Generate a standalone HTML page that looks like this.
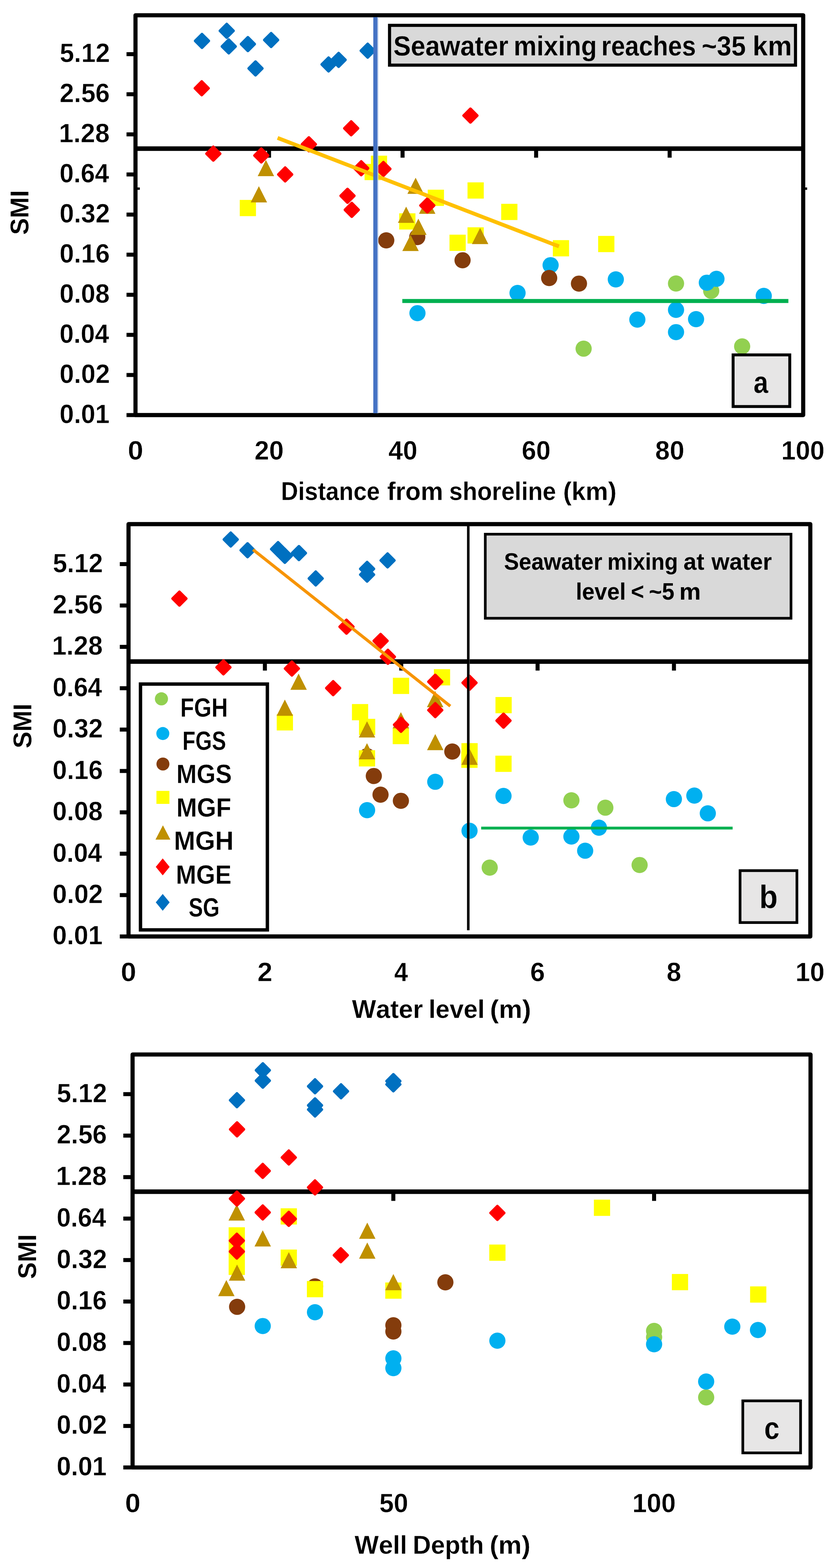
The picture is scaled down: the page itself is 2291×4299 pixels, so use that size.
<!DOCTYPE html>
<html lang="en">
<head>
<meta charset="utf-8">
<title>SMI versus distance from shoreline, water level and well depth</title>
<style>
html,body{margin:0;padding:0;background:#fff;}
body{width:2291px;height:4299px;overflow:hidden;}
svg{display:block;font-family:"Liberation Sans", sans-serif;font-weight:bold;font-kerning:none;fill:#000;}
text{white-space:pre;}
</style>
</head>
<body>
<svg role="img" aria-label="SMI versus distance from shoreline, water level and well depth" width="2291" height="4299" viewBox="0 0 2291 4299">
<rect x="0" y="0" width="2291" height="4299" fill="#ffffff"/>
<line x1="371.3" y1="407.5" x2="2201.1" y2="407.5" stroke="#000000" stroke-width="12.4" stroke-linecap="butt"/>
<line x1="737.3" y1="407.3" x2="737.3" y2="432.3" stroke="#000000" stroke-width="11" stroke-linecap="butt"/>
<line x1="1103.2" y1="407.3" x2="1103.2" y2="432.3" stroke="#000000" stroke-width="11" stroke-linecap="butt"/>
<line x1="1469.2" y1="407.3" x2="1469.2" y2="432.3" stroke="#000000" stroke-width="11" stroke-linecap="butt"/>
<line x1="1835.1" y1="407.3" x2="1835.1" y2="432.3" stroke="#000000" stroke-width="11" stroke-linecap="butt"/>
<line x1="371.3" y1="517.2" x2="383.1" y2="517.2" stroke="#000000" stroke-width="6.5" stroke-linecap="butt"/>
<line x1="2201.1" y1="517.2" x2="2212.0" y2="517.2" stroke="#000000" stroke-width="6.5" stroke-linecap="butt"/>
<rect x="371.3" y="41.8" width="1829.8" height="1096.2" fill="none" stroke="#000000" stroke-width="11.3" stroke-linejoin="round"/>
<line x1="346.7" y1="1138.0" x2="371.3" y2="1138.0" stroke="#000000" stroke-width="11" stroke-linecap="butt"/>
<line x1="346.7" y1="1028.1" x2="371.3" y2="1028.1" stroke="#000000" stroke-width="11" stroke-linecap="butt"/>
<line x1="346.7" y1="918.1" x2="371.3" y2="918.1" stroke="#000000" stroke-width="11" stroke-linecap="butt"/>
<line x1="346.7" y1="808.2" x2="371.3" y2="808.2" stroke="#000000" stroke-width="11" stroke-linecap="butt"/>
<line x1="346.7" y1="698.2" x2="371.3" y2="698.2" stroke="#000000" stroke-width="11" stroke-linecap="butt"/>
<line x1="346.7" y1="588.3" x2="371.3" y2="588.3" stroke="#000000" stroke-width="11" stroke-linecap="butt"/>
<line x1="346.7" y1="478.3" x2="371.3" y2="478.3" stroke="#000000" stroke-width="11" stroke-linecap="butt"/>
<line x1="346.7" y1="368.4" x2="371.3" y2="368.4" stroke="#000000" stroke-width="11" stroke-linecap="butt"/>
<line x1="346.7" y1="258.4" x2="371.3" y2="258.4" stroke="#000000" stroke-width="11" stroke-linecap="butt"/>
<line x1="346.7" y1="148.5" x2="371.3" y2="148.5" stroke="#000000" stroke-width="11" stroke-linecap="butt"/>
<circle cx="1852.6" cy="777.3" r="22.2" fill="#92D050"/>
<circle cx="1949.0" cy="797.4" r="22.2" fill="#92D050"/>
<circle cx="1599.4" cy="955.9" r="22.2" fill="#92D050"/>
<circle cx="2033.8" cy="949.8" r="22.2" fill="#92D050"/>
<circle cx="1508.9" cy="727.1" r="22.2" fill="#00B0F0"/>
<circle cx="1418.3" cy="803.3" r="22.2" fill="#00B0F0"/>
<circle cx="1144.0" cy="858.6" r="22.2" fill="#00B0F0"/>
<circle cx="1687.6" cy="766.0" r="22.2" fill="#00B0F0"/>
<circle cx="1746.6" cy="876.2" r="22.2" fill="#00B0F0"/>
<circle cx="1852.6" cy="849.6" r="22.2" fill="#00B0F0"/>
<circle cx="1852.6" cy="910.6" r="22.2" fill="#00B0F0"/>
<circle cx="1907.5" cy="875.0" r="22.2" fill="#00B0F0"/>
<circle cx="1937.0" cy="775.1" r="22.2" fill="#00B0F0"/>
<circle cx="1963.4" cy="764.4" r="22.2" fill="#00B0F0"/>
<circle cx="2093.0" cy="811.3" r="22.2" fill="#00B0F0"/>
<circle cx="1058.5" cy="659.0" r="22.2" fill="#843C0C"/>
<circle cx="1143.5" cy="650.0" r="22.2" fill="#843C0C"/>
<circle cx="1267.6" cy="713.6" r="22.2" fill="#843C0C"/>
<circle cx="1505.0" cy="762.2" r="22.2" fill="#843C0C"/>
<circle cx="1586.6" cy="777.6" r="22.2" fill="#843C0C"/>
<rect x="657.0" y="548.1" width="44.5" height="44.5" fill="#FFFF00"/>
<rect x="999.1" y="449.4" width="44.5" height="44.5" fill="#FFFF00"/>
<rect x="1016.3" y="426.8" width="44.5" height="44.5" fill="#FFFF00"/>
<rect x="1094.0" y="584.8" width="44.5" height="44.5" fill="#FFFF00"/>
<rect x="1172.2" y="520.1" width="44.5" height="44.5" fill="#FFFF00"/>
<rect x="1281.2" y="500.0" width="44.5" height="44.5" fill="#FFFF00"/>
<rect x="1373.5" y="558.8" width="44.5" height="44.5" fill="#FFFF00"/>
<rect x="1231.8" y="643.4" width="44.5" height="44.5" fill="#FFFF00"/>
<rect x="1281.2" y="623.2" width="44.5" height="44.5" fill="#FFFF00"/>
<rect x="1515.0" y="658.4" width="44.5" height="44.5" fill="#FFFF00"/>
<rect x="1639.2" y="646.8" width="44.5" height="44.5" fill="#FFFF00"/>
<path d="M728.7 438.5L751.2 482.9L706.2 482.9Z" fill="#BF9000"/>
<path d="M709.4 510.5L731.9 554.9L686.9 554.9Z" fill="#BF9000"/>
<path d="M1113.0 566.6L1135.5 611.0L1090.5 611.0Z" fill="#BF9000"/>
<path d="M1139.0 487.2L1161.5 531.6L1116.5 531.6Z" fill="#BF9000"/>
<path d="M1125.0 643.8L1147.5 688.2L1102.5 688.2Z" fill="#BF9000"/>
<path d="M1146.5 599.6L1169.0 644.0L1124.0 644.0Z" fill="#BF9000"/>
<path d="M1315.7 624.8L1338.2 669.2L1293.2 669.2Z" fill="#BF9000"/>
<path d="M1170.7 541.8L1193.2 586.2L1148.2 586.2Z" fill="#BF9000"/>
<path d="M552.8 223.8L571.0 242.0L552.8 260.2L534.6 242.0Z" fill="#FF0000" stroke="#FF0000" stroke-width="8.0" stroke-linejoin="round"/>
<path d="M962.4 333.6L980.6 351.8L962.4 370.0L944.2 351.8Z" fill="#FF0000" stroke="#FF0000" stroke-width="8.0" stroke-linejoin="round"/>
<path d="M846.4 377.4L864.6 395.6L846.4 413.8L828.2 395.6Z" fill="#FF0000" stroke="#FF0000" stroke-width="8.0" stroke-linejoin="round"/>
<path d="M584.6 403.1L602.8 421.3L584.6 439.5L566.4 421.3Z" fill="#FF0000" stroke="#FF0000" stroke-width="8.0" stroke-linejoin="round"/>
<path d="M716.1 408.1L734.3 426.3L716.1 444.5L697.9 426.3Z" fill="#FF0000" stroke="#FF0000" stroke-width="8.0" stroke-linejoin="round"/>
<path d="M781.5 460.1L799.7 478.3L781.5 496.5L763.3 478.3Z" fill="#FF0000" stroke="#FF0000" stroke-width="8.0" stroke-linejoin="round"/>
<path d="M989.9 443.1L1008.1 461.3L989.9 479.5L971.7 461.3Z" fill="#FF0000" stroke="#FF0000" stroke-width="8.0" stroke-linejoin="round"/>
<path d="M1050.7 445.0L1068.9 463.2L1050.7 481.4L1032.5 463.2Z" fill="#FF0000" stroke="#FF0000" stroke-width="8.0" stroke-linejoin="round"/>
<path d="M952.3 518.7L970.5 536.9L952.3 555.1L934.1 536.9Z" fill="#FF0000" stroke="#FF0000" stroke-width="8.0" stroke-linejoin="round"/>
<path d="M964.0 557.2L982.2 575.4L964.0 593.6L945.8 575.4Z" fill="#FF0000" stroke="#FF0000" stroke-width="8.0" stroke-linejoin="round"/>
<path d="M1289.2 298.7L1307.4 316.9L1289.2 335.1L1271.0 316.9Z" fill="#FF0000" stroke="#FF0000" stroke-width="8.0" stroke-linejoin="round"/>
<path d="M1171.0 545.1L1189.2 563.3L1171.0 581.5L1152.8 563.3Z" fill="#FF0000" stroke="#FF0000" stroke-width="8.0" stroke-linejoin="round"/>
<path d="M553.5 94.0L571.7 112.2L553.5 130.4L535.3 112.2Z" fill="#0070C0" stroke="#0070C0" stroke-width="8.0" stroke-linejoin="round"/>
<path d="M621.3 66.3L639.5 84.5L621.3 102.7L603.1 84.5Z" fill="#0070C0" stroke="#0070C0" stroke-width="8.0" stroke-linejoin="round"/>
<path d="M626.9 109.1L645.1 127.3L626.9 145.5L608.7 127.3Z" fill="#0070C0" stroke="#0070C0" stroke-width="8.0" stroke-linejoin="round"/>
<path d="M679.3 102.7L697.5 120.9L679.3 139.1L661.1 120.9Z" fill="#0070C0" stroke="#0070C0" stroke-width="8.0" stroke-linejoin="round"/>
<path d="M743.0 91.5L761.2 109.7L743.0 127.9L724.8 109.7Z" fill="#0070C0" stroke="#0070C0" stroke-width="8.0" stroke-linejoin="round"/>
<path d="M700.2 169.4L718.4 187.6L700.2 205.8L682.0 187.6Z" fill="#0070C0" stroke="#0070C0" stroke-width="8.0" stroke-linejoin="round"/>
<path d="M900.4 158.5L918.6 176.7L900.4 194.9L882.2 176.7Z" fill="#0070C0" stroke="#0070C0" stroke-width="8.0" stroke-linejoin="round"/>
<path d="M928.0 146.0L946.2 164.2L928.0 182.4L909.8 164.2Z" fill="#0070C0" stroke="#0070C0" stroke-width="8.0" stroke-linejoin="round"/>
<path d="M1007.6 120.8L1025.8 139.0L1007.6 157.2L989.4 139.0Z" fill="#0070C0" stroke="#0070C0" stroke-width="8.0" stroke-linejoin="round"/>
<line x1="760.7" y1="378.2" x2="1531.8" y2="675.5" stroke="#FFC000" stroke-width="10.5" stroke-linecap="butt"/>
<line x1="1102.5" y1="825.3" x2="2160.5" y2="825.3" stroke="#00B050" stroke-width="11" stroke-linecap="butt"/>
<rect x="1023.0" y="47.0" width="11.4" height="1086.0" fill="#4472C4" stroke="none" stroke-width="0"/>
<rect x="1034.4" y="47.0" width="2.4" height="1086.0" fill="#B4C7E7" stroke="none" stroke-width="0"/>
<rect x="1067.5" y="69.5" width="1112.5" height="109.1" fill="#D9D9D9" stroke="#000000" stroke-width="8.5"/>
<text y="151.80" font-size="75.57" stroke="#D9D9D9" stroke-width="0.40" stroke-linejoin="round"><tspan x="1077.93" textLength="335.09" lengthAdjust="spacingAndGlyphs">Seawater </tspan><tspan x="1407.43" textLength="247.99" lengthAdjust="spacingAndGlyphs">mixing </tspan><tspan x="1648.09" textLength="277.95" lengthAdjust="spacingAndGlyphs">reaches </tspan><tspan x="1922.88" textLength="140.83" lengthAdjust="spacingAndGlyphs">~35 </tspan><tspan x="2062.50" textLength="107.73" lengthAdjust="spacingAndGlyphs">km</tspan></text>
<text x="163.22" y="1159.90" font-size="71.86" textLength="137.04" lengthAdjust="spacingAndGlyphs" stroke="#FFFFFF" stroke-width="0.60" stroke-linejoin="round">0.01</text>
<text x="163.20" y="1049.96" font-size="71.86" textLength="137.94" lengthAdjust="spacingAndGlyphs" stroke="#FFFFFF" stroke-width="0.60" stroke-linejoin="round">0.02</text>
<text x="163.25" y="940.01" font-size="71.86" textLength="135.43" lengthAdjust="spacingAndGlyphs" stroke="#FFFFFF" stroke-width="0.60" stroke-linejoin="round">0.04</text>
<text x="163.21" y="830.07" font-size="71.86" textLength="137.26" lengthAdjust="spacingAndGlyphs" stroke="#FFFFFF" stroke-width="0.60" stroke-linejoin="round">0.08</text>
<text x="163.20" y="720.12" font-size="71.86" textLength="137.65" lengthAdjust="spacingAndGlyphs" stroke="#FFFFFF" stroke-width="0.60" stroke-linejoin="round">0.16</text>
<text x="163.20" y="610.18" font-size="71.86" textLength="137.94" lengthAdjust="spacingAndGlyphs" stroke="#FFFFFF" stroke-width="0.60" stroke-linejoin="round">0.32</text>
<text x="163.25" y="500.23" font-size="71.86" textLength="135.43" lengthAdjust="spacingAndGlyphs" stroke="#FFFFFF" stroke-width="0.60" stroke-linejoin="round">0.64</text>
<text x="161.50" y="390.29" font-size="71.86" textLength="139.00" lengthAdjust="spacingAndGlyphs" stroke="#FFFFFF" stroke-width="0.60" stroke-linejoin="round">1.28</text>
<text x="163.55" y="280.34" font-size="71.86" textLength="137.29" lengthAdjust="spacingAndGlyphs" stroke="#FFFFFF" stroke-width="0.60" stroke-linejoin="round">2.56</text>
<text x="163.83" y="170.40" font-size="71.86" textLength="137.29" lengthAdjust="spacingAndGlyphs" stroke="#FFFFFF" stroke-width="0.60" stroke-linejoin="round">5.12</text>
<text x="350.19" y="1260.10" font-size="71.86" textLength="42.33" lengthAdjust="spacingAndGlyphs" stroke="#FFFFFF" stroke-width="0.60" stroke-linejoin="round">0</text>
<text x="697.47" y="1260.10" font-size="71.86" textLength="80.05" lengthAdjust="spacingAndGlyphs" stroke="#FFFFFF" stroke-width="0.60" stroke-linejoin="round">20</text>
<text x="1064.54" y="1260.10" font-size="71.86" textLength="79.20" lengthAdjust="spacingAndGlyphs" stroke="#FFFFFF" stroke-width="0.60" stroke-linejoin="round">40</text>
<text x="1429.77" y="1260.10" font-size="71.86" textLength="79.12" lengthAdjust="spacingAndGlyphs" stroke="#FFFFFF" stroke-width="0.60" stroke-linejoin="round">60</text>
<text x="1795.56" y="1260.10" font-size="71.86" textLength="79.82" lengthAdjust="spacingAndGlyphs" stroke="#FFFFFF" stroke-width="0.60" stroke-linejoin="round">80</text>
<text x="2140.91" y="1260.10" font-size="71.86" textLength="118.81" lengthAdjust="spacingAndGlyphs" stroke="#FFFFFF" stroke-width="0.60" stroke-linejoin="round">100</text>
<text y="1370.70" font-size="69.57" stroke="#FFFFFF" stroke-width="0.40" stroke-linejoin="round"><tspan x="770.05" textLength="289.03" lengthAdjust="spacingAndGlyphs">Distance </tspan><tspan x="1060.92" textLength="172.53" lengthAdjust="spacingAndGlyphs">from </tspan><tspan x="1231.09" textLength="310.95" lengthAdjust="spacingAndGlyphs">shoreline </tspan><tspan x="1543.15" textLength="146.41" lengthAdjust="spacingAndGlyphs">(km)</tspan></text>
<text x="-6.04" y="608.10" font-size="70.57" textLength="122.71" lengthAdjust="spacingAndGlyphs" transform="rotate(-90 54.0 583.9)" stroke="#FFFFFF" stroke-width="0.40" stroke-linejoin="round">SMI</text>
<rect x="2009.0" y="973.0" width="155.3" height="141.6" fill="#E7E6E6" stroke="#000000" stroke-width="8"/>
<text x="2065.08" y="1076.80" font-size="83.57" textLength="40.26" lengthAdjust="spacingAndGlyphs" stroke="#E7E6E6" stroke-width="0.40" stroke-linejoin="round">a</text>
<line x1="352.2" y1="1813.7" x2="2220.6" y2="1813.7" stroke="#000000" stroke-width="12.4" stroke-linecap="butt"/>
<line x1="725.9" y1="1813.5" x2="725.9" y2="1838.5" stroke="#000000" stroke-width="11" stroke-linecap="butt"/>
<line x1="1099.6" y1="1813.5" x2="1099.6" y2="1838.5" stroke="#000000" stroke-width="11" stroke-linecap="butt"/>
<line x1="1473.2" y1="1813.5" x2="1473.2" y2="1838.5" stroke="#000000" stroke-width="11" stroke-linecap="butt"/>
<line x1="1846.9" y1="1813.5" x2="1846.9" y2="1838.5" stroke="#000000" stroke-width="11" stroke-linecap="butt"/>
<rect x="352.2" y="1437.0" width="1868.4" height="1130.5" fill="none" stroke="#000000" stroke-width="11.3" stroke-linejoin="round"/>
<line x1="328.3" y1="2567.5" x2="352.2" y2="2567.5" stroke="#000000" stroke-width="11" stroke-linecap="butt"/>
<line x1="328.3" y1="2454.1" x2="352.2" y2="2454.1" stroke="#000000" stroke-width="11" stroke-linecap="butt"/>
<line x1="328.3" y1="2340.6" x2="352.2" y2="2340.6" stroke="#000000" stroke-width="11" stroke-linecap="butt"/>
<line x1="328.3" y1="2227.2" x2="352.2" y2="2227.2" stroke="#000000" stroke-width="11" stroke-linecap="butt"/>
<line x1="328.3" y1="2113.8" x2="352.2" y2="2113.8" stroke="#000000" stroke-width="11" stroke-linecap="butt"/>
<line x1="328.3" y1="2000.3" x2="352.2" y2="2000.3" stroke="#000000" stroke-width="11" stroke-linecap="butt"/>
<line x1="328.3" y1="1886.9" x2="352.2" y2="1886.9" stroke="#000000" stroke-width="11" stroke-linecap="butt"/>
<line x1="328.3" y1="1773.5" x2="352.2" y2="1773.5" stroke="#000000" stroke-width="11" stroke-linecap="butt"/>
<line x1="328.3" y1="1660.1" x2="352.2" y2="1660.1" stroke="#000000" stroke-width="11" stroke-linecap="butt"/>
<line x1="328.3" y1="1546.6" x2="352.2" y2="1546.6" stroke="#000000" stroke-width="11" stroke-linecap="butt"/>
<circle cx="1565.9" cy="2194.2" r="22.2" fill="#92D050"/>
<circle cx="1658.9" cy="2214.4" r="22.2" fill="#92D050"/>
<circle cx="1342.0" cy="2378.7" r="22.2" fill="#92D050"/>
<circle cx="1752.8" cy="2371.6" r="22.2" fill="#92D050"/>
<circle cx="1006.0" cy="2221.3" r="22.2" fill="#00B0F0"/>
<circle cx="1192.8" cy="2143.4" r="22.2" fill="#00B0F0"/>
<circle cx="1379.8" cy="2182.2" r="22.2" fill="#00B0F0"/>
<circle cx="1286.7" cy="2277.7" r="22.2" fill="#00B0F0"/>
<circle cx="1454.4" cy="2296.2" r="22.2" fill="#00B0F0"/>
<circle cx="1565.9" cy="2293.6" r="22.2" fill="#00B0F0"/>
<circle cx="1603.6" cy="2332.4" r="22.2" fill="#00B0F0"/>
<circle cx="1641.3" cy="2269.3" r="22.2" fill="#00B0F0"/>
<circle cx="1846.7" cy="2190.9" r="22.2" fill="#00B0F0"/>
<circle cx="1902.8" cy="2181.3" r="22.2" fill="#00B0F0"/>
<circle cx="1939.7" cy="2229.9" r="22.2" fill="#00B0F0"/>
<circle cx="1024.4" cy="2127.6" r="22.2" fill="#843C0C"/>
<circle cx="1042.8" cy="2178.7" r="22.2" fill="#843C0C"/>
<circle cx="1098.6" cy="2195.6" r="22.2" fill="#843C0C"/>
<circle cx="1239.5" cy="2060.5" r="22.2" fill="#843C0C"/>
<circle cx="1005.9" cy="2073.2" r="22.2" fill="#843C0C"/>
<rect x="758.4" y="1958.2" width="44.5" height="44.5" fill="#FFFF00"/>
<rect x="964.5" y="1930.3" width="44.5" height="44.5" fill="#FFFF00"/>
<rect x="983.8" y="1970.8" width="44.5" height="44.5" fill="#FFFF00"/>
<rect x="983.5" y="2056.9" width="44.5" height="44.5" fill="#FFFF00"/>
<rect x="1076.7" y="1858.2" width="44.5" height="44.5" fill="#FFFF00"/>
<rect x="1076.2" y="1995.8" width="44.5" height="44.5" fill="#FFFF00"/>
<rect x="1189.0" y="1834.7" width="44.5" height="44.5" fill="#FFFF00"/>
<rect x="1357.8" y="1911.0" width="44.5" height="44.5" fill="#FFFF00"/>
<rect x="1264.5" y="2037.4" width="44.5" height="44.5" fill="#FFFF00"/>
<rect x="1264.2" y="2060.8" width="44.5" height="44.5" fill="#FFFF00"/>
<rect x="1357.5" y="2071.8" width="44.5" height="44.5" fill="#FFFF00"/>
<path d="M818.3 1846.8L840.8 1891.2L795.8 1891.2Z" fill="#BF9000"/>
<path d="M780.6 1918.0L803.1 1962.4L758.1 1962.4Z" fill="#BF9000"/>
<path d="M1005.8 1977.5L1028.3 2021.9L983.3 2021.9Z" fill="#BF9000"/>
<path d="M1005.7 2037.5L1028.2 2081.9L983.2 2081.9Z" fill="#BF9000"/>
<path d="M1098.6 1952.5L1121.1 1996.9L1076.1 1996.9Z" fill="#BF9000"/>
<path d="M1192.5 1894.6L1215.0 1939.0L1170.0 1939.0Z" fill="#BF9000"/>
<path d="M1192.8 2012.4L1215.3 2056.8L1170.3 2056.8Z" fill="#BF9000"/>
<path d="M1286.7 2052.6L1309.2 2097.0L1264.2 2097.0Z" fill="#BF9000"/>
<path d="M491.7 1623.0L509.9 1641.2L491.7 1659.4L473.5 1641.2Z" fill="#FF0000" stroke="#FF0000" stroke-width="8.0" stroke-linejoin="round"/>
<path d="M949.5 1700.1L967.7 1718.3L949.5 1736.5L931.3 1718.3Z" fill="#FF0000" stroke="#FF0000" stroke-width="8.0" stroke-linejoin="round"/>
<path d="M1043.0 1739.0L1061.2 1757.2L1043.0 1775.4L1024.8 1757.2Z" fill="#FF0000" stroke="#FF0000" stroke-width="8.0" stroke-linejoin="round"/>
<path d="M1063.0 1782.6L1081.2 1800.8L1063.0 1819.0L1044.8 1800.8Z" fill="#FF0000" stroke="#FF0000" stroke-width="8.0" stroke-linejoin="round"/>
<path d="M612.3 1811.5L630.5 1829.7L612.3 1847.9L594.1 1829.7Z" fill="#FF0000" stroke="#FF0000" stroke-width="8.0" stroke-linejoin="round"/>
<path d="M799.9 1814.8L818.1 1833.0L799.9 1851.2L781.7 1833.0Z" fill="#FF0000" stroke="#FF0000" stroke-width="8.0" stroke-linejoin="round"/>
<path d="M913.0 1868.5L931.2 1886.7L913.0 1904.9L894.8 1886.7Z" fill="#FF0000" stroke="#FF0000" stroke-width="8.0" stroke-linejoin="round"/>
<path d="M1098.9 1969.0L1117.1 1987.2L1098.9 2005.4L1080.7 1987.2Z" fill="#FF0000" stroke="#FF0000" stroke-width="8.0" stroke-linejoin="round"/>
<path d="M1192.8 1850.9L1211.0 1869.1L1192.8 1887.3L1174.6 1869.1Z" fill="#FF0000" stroke="#FF0000" stroke-width="8.0" stroke-linejoin="round"/>
<path d="M1286.7 1853.8L1304.9 1872.0L1286.7 1890.2L1268.5 1872.0Z" fill="#FF0000" stroke="#FF0000" stroke-width="8.0" stroke-linejoin="round"/>
<path d="M1192.8 1928.8L1211.0 1947.0L1192.8 1965.2L1174.6 1947.0Z" fill="#FF0000" stroke="#FF0000" stroke-width="8.0" stroke-linejoin="round"/>
<path d="M1379.8 1957.7L1398.0 1975.9L1379.8 1994.1L1361.6 1975.9Z" fill="#FF0000" stroke="#FF0000" stroke-width="8.0" stroke-linejoin="round"/>
<path d="M632.3 1461.0L650.5 1479.2L632.3 1497.4L614.1 1479.2Z" fill="#0070C0" stroke="#0070C0" stroke-width="8.0" stroke-linejoin="round"/>
<path d="M678.4 1490.4L696.6 1508.6L678.4 1526.8L660.2 1508.6Z" fill="#0070C0" stroke="#0070C0" stroke-width="8.0" stroke-linejoin="round"/>
<path d="M762.0 1487.3L780.2 1505.5L762.0 1523.7L743.8 1505.5Z" fill="#0070C0" stroke="#0070C0" stroke-width="8.0" stroke-linejoin="round"/>
<path d="M780.6 1505.8L798.8 1524.0L780.6 1542.2L762.4 1524.0Z" fill="#0070C0" stroke="#0070C0" stroke-width="8.0" stroke-linejoin="round"/>
<path d="M819.2 1498.2L837.4 1516.4L819.2 1534.6L801.0 1516.4Z" fill="#0070C0" stroke="#0070C0" stroke-width="8.0" stroke-linejoin="round"/>
<path d="M865.2 1567.8L883.4 1586.0L865.2 1604.2L847.0 1586.0Z" fill="#0070C0" stroke="#0070C0" stroke-width="8.0" stroke-linejoin="round"/>
<path d="M1006.0 1541.5L1024.2 1559.7L1006.0 1577.9L987.8 1559.7Z" fill="#0070C0" stroke="#0070C0" stroke-width="8.0" stroke-linejoin="round"/>
<path d="M1006.0 1557.3L1024.2 1575.5L1006.0 1593.7L987.8 1575.5Z" fill="#0070C0" stroke="#0070C0" stroke-width="8.0" stroke-linejoin="round"/>
<path d="M1062.1 1518.3L1080.3 1536.5L1062.1 1554.7L1043.9 1536.5Z" fill="#0070C0" stroke="#0070C0" stroke-width="8.0" stroke-linejoin="round"/>
<line x1="693.5" y1="1507.0" x2="1234.0" y2="1936.0" stroke="#F79400" stroke-width="8.3" stroke-linecap="butt"/>
<line x1="1318.6" y1="2270.4" x2="2007.7" y2="2270.4" stroke="#00B050" stroke-width="7.6" stroke-linecap="butt"/>
<rect x="1279.8" y="1442.0" width="6.2" height="1108.5" fill="#000000" stroke="none" stroke-width="0"/>
<rect x="1286.0" y="1442.0" width="1.2" height="1108.5" fill="#595959" stroke="none" stroke-width="0"/>
<rect x="1329.9" y="1464.6" width="837.8" height="230.5" fill="#D9D9D9" stroke="#000000" stroke-width="7.3"/>
<text y="1561.80" font-size="64.00"><tspan x="1381.23" textLength="286.33" lengthAdjust="spacingAndGlyphs">Seawater </tspan><tspan x="1664.55" textLength="209.93" lengthAdjust="spacingAndGlyphs">mixing </tspan><tspan x="1873.02" textLength="74.76" lengthAdjust="spacingAndGlyphs">at </tspan><tspan x="1949.79" textLength="165.37" lengthAdjust="spacingAndGlyphs">water</tspan></text>
<text y="1643.80" font-size="64.00"><tspan x="1577.89" textLength="154.43" lengthAdjust="spacingAndGlyphs">level </tspan><tspan x="1728.90" textLength="53.28" lengthAdjust="spacingAndGlyphs">&lt; </tspan><tspan x="1778.27" textLength="86.97" lengthAdjust="spacingAndGlyphs">~5 </tspan><tspan x="1861.42" textLength="59.10" lengthAdjust="spacingAndGlyphs">m</tspan></text>
<rect x="385.0" y="1875.5" width="347.7" height="674.0" fill="#FFFFFF" stroke="#000000" stroke-width="9.3"/>
<circle cx="442.4" cy="1916.1" r="18" fill="#92D050"/>
<circle cx="446.2" cy="2011.1" r="17.8" fill="#00B0F0"/>
<circle cx="446.5" cy="2094.7" r="17.8" fill="#843C0C"/>
<rect x="428.7" y="2168.4" width="35.6" height="35.6" fill="#FFFF00"/>
<path d="M446.5 2262.7L466.9 2302.0L426.1 2302.0Z" fill="#BF9000"/>
<path d="M445.9 2353.5L464.9 2376.8L445.9 2400.1L426.9 2376.8Z" fill="#FF0000"/>
<path d="M445.9 2450.9L464.9 2473.9L445.9 2496.9L426.9 2473.9Z" fill="#0070C0"/>
<text x="494.07" y="1965.30" font-size="71.57" textLength="130.18" lengthAdjust="spacingAndGlyphs" stroke="#FFFFFF" stroke-width="0.40" stroke-linejoin="round">FGH</text>
<text x="500.12" y="2055.60" font-size="71.57" textLength="119.35" lengthAdjust="spacingAndGlyphs" stroke="#FFFFFF" stroke-width="0.40" stroke-linejoin="round">FGS</text>
<text x="483.55" y="2147.40" font-size="71.57" textLength="151.65" lengthAdjust="spacingAndGlyphs" stroke="#FFFFFF" stroke-width="0.40" stroke-linejoin="round">MGS</text>
<text x="483.48" y="2238.90" font-size="71.57" textLength="150.09" lengthAdjust="spacingAndGlyphs" stroke="#FFFFFF" stroke-width="0.40" stroke-linejoin="round">MGF</text>
<text x="476.61" y="2330.40" font-size="71.57" textLength="163.62" lengthAdjust="spacingAndGlyphs" stroke="#FFFFFF" stroke-width="0.40" stroke-linejoin="round">MGH</text>
<text x="482.03" y="2422.50" font-size="71.57" textLength="152.28" lengthAdjust="spacingAndGlyphs" stroke="#FFFFFF" stroke-width="0.40" stroke-linejoin="round">MGE</text>
<text x="516.91" y="2513.40" font-size="71.57" textLength="84.94" lengthAdjust="spacingAndGlyphs" stroke="#FFFFFF" stroke-width="0.40" stroke-linejoin="round">SG</text>
<text x="144.12" y="2589.40" font-size="71.86" textLength="137.04" lengthAdjust="spacingAndGlyphs" stroke="#FFFFFF" stroke-width="0.60" stroke-linejoin="round">0.01</text>
<text x="144.10" y="2475.97" font-size="71.86" textLength="137.94" lengthAdjust="spacingAndGlyphs" stroke="#FFFFFF" stroke-width="0.60" stroke-linejoin="round">0.02</text>
<text x="144.15" y="2362.54" font-size="71.86" textLength="135.43" lengthAdjust="spacingAndGlyphs" stroke="#FFFFFF" stroke-width="0.60" stroke-linejoin="round">0.04</text>
<text x="144.11" y="2249.11" font-size="71.86" textLength="137.26" lengthAdjust="spacingAndGlyphs" stroke="#FFFFFF" stroke-width="0.60" stroke-linejoin="round">0.08</text>
<text x="144.10" y="2135.68" font-size="71.86" textLength="137.65" lengthAdjust="spacingAndGlyphs" stroke="#FFFFFF" stroke-width="0.60" stroke-linejoin="round">0.16</text>
<text x="144.10" y="2022.25" font-size="71.86" textLength="137.94" lengthAdjust="spacingAndGlyphs" stroke="#FFFFFF" stroke-width="0.60" stroke-linejoin="round">0.32</text>
<text x="144.15" y="1908.82" font-size="71.86" textLength="135.43" lengthAdjust="spacingAndGlyphs" stroke="#FFFFFF" stroke-width="0.60" stroke-linejoin="round">0.64</text>
<text x="142.40" y="1795.39" font-size="71.86" textLength="139.00" lengthAdjust="spacingAndGlyphs" stroke="#FFFFFF" stroke-width="0.60" stroke-linejoin="round">1.28</text>
<text x="144.45" y="1681.96" font-size="71.86" textLength="137.29" lengthAdjust="spacingAndGlyphs" stroke="#FFFFFF" stroke-width="0.60" stroke-linejoin="round">2.56</text>
<text x="144.73" y="1568.53" font-size="71.86" textLength="137.29" lengthAdjust="spacingAndGlyphs" stroke="#FFFFFF" stroke-width="0.60" stroke-linejoin="round">5.12</text>
<text x="331.09" y="2690.30" font-size="71.86" textLength="42.33" lengthAdjust="spacingAndGlyphs" stroke="#FFFFFF" stroke-width="0.60" stroke-linejoin="round">0</text>
<text x="705.52" y="2690.30" font-size="71.86" textLength="41.12" lengthAdjust="spacingAndGlyphs" stroke="#FFFFFF" stroke-width="0.60" stroke-linejoin="round">2</text>
<text x="1080.33" y="2690.30" font-size="71.86" textLength="37.79" lengthAdjust="spacingAndGlyphs" stroke="#FFFFFF" stroke-width="0.60" stroke-linejoin="round">4</text>
<text x="1453.09" y="2690.30" font-size="71.86" textLength="40.27" lengthAdjust="spacingAndGlyphs" stroke="#FFFFFF" stroke-width="0.60" stroke-linejoin="round">6</text>
<text x="1826.83" y="2690.30" font-size="71.86" textLength="40.11" lengthAdjust="spacingAndGlyphs" stroke="#FFFFFF" stroke-width="0.60" stroke-linejoin="round">8</text>
<text x="2179.88" y="2690.30" font-size="71.86" textLength="79.87" lengthAdjust="spacingAndGlyphs" stroke="#FFFFFF" stroke-width="0.60" stroke-linejoin="round">10</text>
<text y="2790.80" font-size="69.57" stroke="#FFFFFF" stroke-width="0.40" stroke-linejoin="round"><tspan x="964.43" textLength="214.09" lengthAdjust="spacingAndGlyphs">Water </tspan><tspan x="1174.68" textLength="172.56" lengthAdjust="spacingAndGlyphs">level </tspan><tspan x="1342.80" textLength="112.51" lengthAdjust="spacingAndGlyphs">(m)</tspan></text>
<text x="1.86" y="2016.00" font-size="70.57" textLength="122.71" lengthAdjust="spacingAndGlyphs" transform="rotate(-90 61.9 1991.8)" stroke="#FFFFFF" stroke-width="0.40" stroke-linejoin="round">SMI</text>
<rect x="2028.1" y="2387.0" width="155.8" height="142.4" fill="#E7E6E6" stroke="#000000" stroke-width="7.4"/>
<text x="2080.85" y="2489.80" font-size="88.57" textLength="50.55" lengthAdjust="spacingAndGlyphs" stroke="#E7E6E6" stroke-width="0.40" stroke-linejoin="round">b</text>
<line x1="363.3" y1="3267.2" x2="2221.2" y2="3267.2" stroke="#000000" stroke-width="12.4" stroke-linecap="butt"/>
<line x1="1077.9" y1="3267.0" x2="1077.9" y2="3292.5" stroke="#000000" stroke-width="11" stroke-linecap="butt"/>
<line x1="1792.5" y1="3267.0" x2="1792.5" y2="3292.5" stroke="#000000" stroke-width="11" stroke-linecap="butt"/>
<rect x="363.3" y="2891.2" width="1857.9" height="1132.1" fill="none" stroke="#000000" stroke-width="11.3" stroke-linejoin="round"/>
<line x1="337.9" y1="4023.3" x2="363.3" y2="4023.3" stroke="#000000" stroke-width="11" stroke-linecap="butt"/>
<line x1="337.9" y1="3909.6" x2="363.3" y2="3909.6" stroke="#000000" stroke-width="11" stroke-linecap="butt"/>
<line x1="337.9" y1="3795.9" x2="363.3" y2="3795.9" stroke="#000000" stroke-width="11" stroke-linecap="butt"/>
<line x1="337.9" y1="3682.1" x2="363.3" y2="3682.1" stroke="#000000" stroke-width="11" stroke-linecap="butt"/>
<line x1="337.9" y1="3568.4" x2="363.3" y2="3568.4" stroke="#000000" stroke-width="11" stroke-linecap="butt"/>
<line x1="337.9" y1="3454.7" x2="363.3" y2="3454.7" stroke="#000000" stroke-width="11" stroke-linecap="butt"/>
<line x1="337.9" y1="3341.0" x2="363.3" y2="3341.0" stroke="#000000" stroke-width="11" stroke-linecap="butt"/>
<line x1="337.9" y1="3227.3" x2="363.3" y2="3227.3" stroke="#000000" stroke-width="11" stroke-linecap="butt"/>
<line x1="337.9" y1="3113.5" x2="363.3" y2="3113.5" stroke="#000000" stroke-width="11" stroke-linecap="butt"/>
<line x1="337.9" y1="2999.8" x2="363.3" y2="2999.8" stroke="#000000" stroke-width="11" stroke-linecap="butt"/>
<circle cx="1792.5" cy="3649.0" r="22.2" fill="#92D050"/>
<circle cx="1792.5" cy="3666.2" r="22.2" fill="#92D050"/>
<circle cx="1935.2" cy="3831.3" r="22.2" fill="#92D050"/>
<circle cx="720.0" cy="3635.6" r="22.2" fill="#00B0F0"/>
<circle cx="863.2" cy="3597.8" r="22.2" fill="#00B0F0"/>
<circle cx="1078.0" cy="3724.3" r="22.2" fill="#00B0F0"/>
<circle cx="1078.0" cy="3751.0" r="22.2" fill="#00B0F0"/>
<circle cx="1363.0" cy="3675.8" r="22.2" fill="#00B0F0"/>
<circle cx="1792.5" cy="3685.6" r="22.2" fill="#00B0F0"/>
<circle cx="2006.8" cy="3637.2" r="22.2" fill="#00B0F0"/>
<circle cx="2077.2" cy="3646.5" r="22.2" fill="#00B0F0"/>
<circle cx="1935.2" cy="3787.8" r="22.2" fill="#00B0F0"/>
<circle cx="863.2" cy="3527.0" r="22.2" fill="#843C0C"/>
<circle cx="1220.5" cy="3515.8" r="22.2" fill="#843C0C"/>
<circle cx="649.8" cy="3582.9" r="22.2" fill="#843C0C"/>
<circle cx="1078.0" cy="3633.5" r="22.2" fill="#843C0C"/>
<circle cx="1078.0" cy="3650.6" r="22.2" fill="#843C0C"/>
<rect x="769.1" y="3312.8" width="44.5" height="44.5" fill="#FFFF00"/>
<rect x="626.6" y="3364.8" width="44.5" height="44.5" fill="#FFFF00"/>
<rect x="626.6" y="3406.6" width="44.5" height="44.5" fill="#FFFF00"/>
<rect x="769.1" y="3425.9" width="44.5" height="44.5" fill="#FFFF00"/>
<rect x="626.6" y="3451.1" width="44.5" height="44.5" fill="#FFFF00"/>
<rect x="841.0" y="3512.2" width="44.5" height="44.5" fill="#FFFF00"/>
<rect x="1055.8" y="3516.2" width="44.5" height="44.5" fill="#FFFF00"/>
<rect x="1627.5" y="3289.1" width="44.5" height="44.5" fill="#FFFF00"/>
<rect x="1340.8" y="3412.2" width="44.5" height="44.5" fill="#FFFF00"/>
<rect x="1841.2" y="3492.9" width="44.5" height="44.5" fill="#FFFF00"/>
<rect x="2055.6" y="3526.9" width="44.5" height="44.5" fill="#FFFF00"/>
<path d="M648.7 3302.0L671.2 3346.4L626.2 3346.4Z" fill="#BF9000"/>
<path d="M720.0 3373.1L742.5 3417.5L697.5 3417.5Z" fill="#BF9000"/>
<path d="M1006.5 3352.1L1029.0 3396.5L984.0 3396.5Z" fill="#BF9000"/>
<path d="M1006.5 3406.6L1029.0 3451.0L984.0 3451.0Z" fill="#BF9000"/>
<path d="M791.5 3432.9L814.0 3477.3L769.0 3477.3Z" fill="#BF9000"/>
<path d="M649.6 3466.9L672.1 3511.3L627.1 3511.3Z" fill="#BF9000"/>
<path d="M620.3 3509.4L642.8 3553.8L597.8 3553.8Z" fill="#BF9000"/>
<path d="M1078.0 3493.0L1100.5 3537.4L1055.5 3537.4Z" fill="#BF9000"/>
<path d="M649.6 3078.2L667.8 3096.4L649.6 3114.6L631.4 3096.4Z" fill="#FF0000" stroke="#FF0000" stroke-width="8.0" stroke-linejoin="round"/>
<path d="M791.4 3155.3L809.6 3173.5L791.4 3191.7L773.2 3173.5Z" fill="#FF0000" stroke="#FF0000" stroke-width="8.0" stroke-linejoin="round"/>
<path d="M720.0 3192.1L738.2 3210.3L720.0 3228.5L701.8 3210.3Z" fill="#FF0000" stroke="#FF0000" stroke-width="8.0" stroke-linejoin="round"/>
<path d="M863.2 3237.3L881.4 3255.5L863.2 3273.7L845.0 3255.5Z" fill="#FF0000" stroke="#FF0000" stroke-width="8.0" stroke-linejoin="round"/>
<path d="M649.2 3268.1L667.4 3286.3L649.2 3304.5L631.0 3286.3Z" fill="#FF0000" stroke="#FF0000" stroke-width="8.0" stroke-linejoin="round"/>
<path d="M720.0 3306.0L738.2 3324.2L720.0 3342.4L701.8 3324.2Z" fill="#FF0000" stroke="#FF0000" stroke-width="8.0" stroke-linejoin="round"/>
<path d="M791.4 3323.6L809.6 3341.8L791.4 3360.0L773.2 3341.8Z" fill="#FF0000" stroke="#FF0000" stroke-width="8.0" stroke-linejoin="round"/>
<path d="M649.0 3383.5L667.2 3401.7L649.0 3419.9L630.8 3401.7Z" fill="#FF0000" stroke="#FF0000" stroke-width="8.0" stroke-linejoin="round"/>
<path d="M649.0 3413.2L667.2 3431.4L649.0 3449.6L630.8 3431.4Z" fill="#FF0000" stroke="#FF0000" stroke-width="8.0" stroke-linejoin="round"/>
<path d="M933.9 3423.3L952.1 3441.5L933.9 3459.7L915.7 3441.5Z" fill="#FF0000" stroke="#FF0000" stroke-width="8.0" stroke-linejoin="round"/>
<path d="M1363.0 3307.3L1381.2 3325.5L1363.0 3343.7L1344.8 3325.5Z" fill="#FF0000" stroke="#FF0000" stroke-width="8.0" stroke-linejoin="round"/>
<path d="M649.3 2998.3L667.5 3016.5L649.3 3034.7L631.1 3016.5Z" fill="#0070C0" stroke="#0070C0" stroke-width="8.0" stroke-linejoin="round"/>
<path d="M720.3 2916.2L738.5 2934.4L720.3 2952.6L702.1 2934.4Z" fill="#0070C0" stroke="#0070C0" stroke-width="8.0" stroke-linejoin="round"/>
<path d="M720.3 2944.7L738.5 2962.9L720.3 2981.1L702.1 2962.9Z" fill="#0070C0" stroke="#0070C0" stroke-width="8.0" stroke-linejoin="round"/>
<path d="M863.3 2960.1L881.5 2978.3L863.3 2996.5L845.1 2978.3Z" fill="#0070C0" stroke="#0070C0" stroke-width="8.0" stroke-linejoin="round"/>
<path d="M863.3 3012.4L881.5 3030.6L863.3 3048.8L845.1 3030.6Z" fill="#0070C0" stroke="#0070C0" stroke-width="8.0" stroke-linejoin="round"/>
<path d="M863.3 3023.8L881.5 3042.0L863.3 3060.2L845.1 3042.0Z" fill="#0070C0" stroke="#0070C0" stroke-width="8.0" stroke-linejoin="round"/>
<path d="M934.6 2973.8L952.8 2992.0L934.6 3010.2L916.4 2992.0Z" fill="#0070C0" stroke="#0070C0" stroke-width="8.0" stroke-linejoin="round"/>
<path d="M1078.0 2945.9L1096.2 2964.1L1078.0 2982.3L1059.8 2964.1Z" fill="#0070C0" stroke="#0070C0" stroke-width="8.0" stroke-linejoin="round"/>
<path d="M1078.0 2954.8L1096.2 2973.0L1078.0 2991.2L1059.8 2973.0Z" fill="#0070C0" stroke="#0070C0" stroke-width="8.0" stroke-linejoin="round"/>
<text x="155.22" y="4045.20" font-size="71.86" textLength="137.04" lengthAdjust="spacingAndGlyphs" stroke="#FFFFFF" stroke-width="0.60" stroke-linejoin="round">0.01</text>
<text x="155.20" y="3931.48" font-size="71.86" textLength="137.94" lengthAdjust="spacingAndGlyphs" stroke="#FFFFFF" stroke-width="0.60" stroke-linejoin="round">0.02</text>
<text x="155.25" y="3817.76" font-size="71.86" textLength="135.43" lengthAdjust="spacingAndGlyphs" stroke="#FFFFFF" stroke-width="0.60" stroke-linejoin="round">0.04</text>
<text x="155.21" y="3704.04" font-size="71.86" textLength="137.26" lengthAdjust="spacingAndGlyphs" stroke="#FFFFFF" stroke-width="0.60" stroke-linejoin="round">0.08</text>
<text x="155.20" y="3590.32" font-size="71.86" textLength="137.65" lengthAdjust="spacingAndGlyphs" stroke="#FFFFFF" stroke-width="0.60" stroke-linejoin="round">0.16</text>
<text x="155.20" y="3476.60" font-size="71.86" textLength="137.94" lengthAdjust="spacingAndGlyphs" stroke="#FFFFFF" stroke-width="0.60" stroke-linejoin="round">0.32</text>
<text x="155.25" y="3362.88" font-size="71.86" textLength="135.43" lengthAdjust="spacingAndGlyphs" stroke="#FFFFFF" stroke-width="0.60" stroke-linejoin="round">0.64</text>
<text x="153.50" y="3249.16" font-size="71.86" textLength="139.00" lengthAdjust="spacingAndGlyphs" stroke="#FFFFFF" stroke-width="0.60" stroke-linejoin="round">1.28</text>
<text x="155.55" y="3135.44" font-size="71.86" textLength="137.29" lengthAdjust="spacingAndGlyphs" stroke="#FFFFFF" stroke-width="0.60" stroke-linejoin="round">2.56</text>
<text x="155.83" y="3021.72" font-size="71.86" textLength="137.29" lengthAdjust="spacingAndGlyphs" stroke="#FFFFFF" stroke-width="0.60" stroke-linejoin="round">5.12</text>
<text x="342.89" y="4145.50" font-size="71.86" textLength="42.33" lengthAdjust="spacingAndGlyphs" stroke="#FFFFFF" stroke-width="0.60" stroke-linejoin="round">0</text>
<text x="1039.39" y="4145.50" font-size="71.86" textLength="79.10" lengthAdjust="spacingAndGlyphs" stroke="#FFFFFF" stroke-width="0.60" stroke-linejoin="round">50</text>
<text x="1732.97" y="4145.50" font-size="71.86" textLength="118.81" lengthAdjust="spacingAndGlyphs" stroke="#FFFFFF" stroke-width="0.60" stroke-linejoin="round">100</text>
<text y="4260.00" font-size="69.57" stroke="#FFFFFF" stroke-width="0.40" stroke-linejoin="round"><tspan x="971.83" textLength="163.38" lengthAdjust="spacingAndGlyphs">Well </tspan><tspan x="1131.20" textLength="214.09" lengthAdjust="spacingAndGlyphs">Depth </tspan><tspan x="1341.92" textLength="111.65" lengthAdjust="spacingAndGlyphs">(m)</tspan></text>
<text x="14.86" y="3470.80" font-size="70.57" textLength="122.71" lengthAdjust="spacingAndGlyphs" transform="rotate(-90 74.9 3446.6)" stroke="#FFFFFF" stroke-width="0.40" stroke-linejoin="round">SMI</text>
<rect x="2035.6" y="3840.7" width="158.3" height="142.7" fill="#E7E6E6" stroke="#000000" stroke-width="7.4"/>
<text x="2094.17" y="3945.20" font-size="84.57" textLength="41.73" lengthAdjust="spacingAndGlyphs" stroke="#E7E6E6" stroke-width="0.40" stroke-linejoin="round">c</text>
</svg>
</body>
</html>
